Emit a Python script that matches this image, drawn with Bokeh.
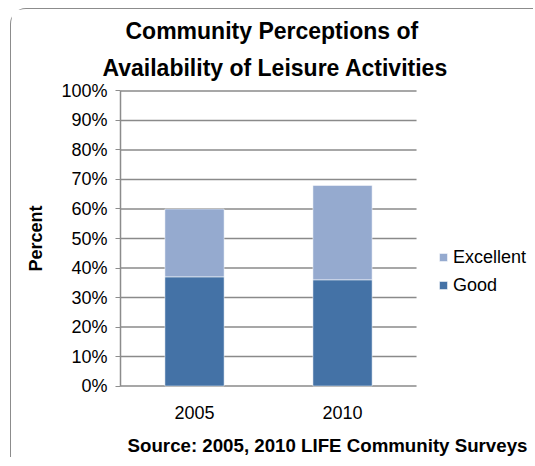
from bokeh.plotting import figure
from bokeh.models import (Title, Legend, LegendItem, Range1d,
                          PrintfTickFormatter, FixedTicker)
from bokeh.embed import file_html
from bokeh.resources import INLINE

categories = ["2005", "2010"]
good = [37, 36]
excellent = [23, 32]
series = ["Good", "Excellent"]
colors = ["#4472A6", "#95AACF"]
y_ticks = [0, 10, 20, 30, 40, 50, 60, 70, 80, 90, 100]

FONT = "Liberation Sans"

n = len(categories)
xpos = [i + 0.5 for i in range(n)]          # category slots on the x scale
label_map = {x: c for x, c in zip(xpos, categories)}

p = figure(x_range=Range1d(0, 2.797), y_range=Range1d(-0.5, 100.5),
           width=523, height=449,
           output_backend="svg", toolbar_location=None,
           min_border_left=109, min_border_right=0,
           min_border_top=80, min_border_bottom=60,
           background_fill_color="white", border_fill_color="white",
           outline_line_color=None,
           styles={"border-left": "1px solid #8c8c8c",
                   "border-top": "1px solid #8c8c8c",
                   "border-top-left-radius": "16px",
                   "margin-left": "10px",
                   "margin-top": "8px"})

# horizontal gridlines (incl. the category baseline) spanning the category area only
p.segment(x0=0, x1=n, y0=y_ticks, y1=y_ticks, line_color="#8a8a8a", line_width=1.5)

data = {"x": xpos, "Good": good, "Excellent": excellent}
renderers = p.vbar_stack(series, x="x", width=0.4, color=colors,
                         line_color="white", line_alpha=0.5, line_width=1,
                         source=data)

# Titles
p.title.text = ""
t2 = Title(text="Availability of Leisure Activities", align="left", offset=-18,
           text_font=FONT, text_font_size="23px", text_font_style="bold",
           text_color="black", standoff=18)
t1 = Title(text="Community Perceptions of", align="left", offset=5,
           text_font=FONT, text_font_size="23px", text_font_style="bold",
           text_color="black", standoff=0)
p.add_layout(t2, "above")
p.add_layout(t1, "above")

# Axes
p.yaxis.ticker = FixedTicker(ticks=y_ticks)
p.yaxis.formatter = PrintfTickFormatter(format="%d%%")
p.yaxis.axis_label = "Percent"
p.yaxis.axis_label_text_font = FONT
p.yaxis.axis_label_text_font_size = "18px"
p.yaxis.axis_label_text_font_style = "bold"
p.yaxis.axis_label_text_color = "black"
p.yaxis.axis_label_standoff = 12
p.yaxis.major_label_text_font = FONT
p.yaxis.major_label_text_font_size = "18px"
p.yaxis.major_label_text_color = "black"
p.yaxis.major_label_standoff = 8
p.yaxis.major_tick_out = 5
p.yaxis.major_tick_in = 0
p.yaxis.minor_tick_out = 0
p.yaxis.minor_tick_in = 0
p.yaxis.axis_line_color = "#8c8c8c"
p.yaxis.axis_line_width = 1.5
p.yaxis.major_tick_line_color = "#8c8c8c"
p.yaxis.bounds = (0, 100)

p.xaxis.ticker = FixedTicker(ticks=xpos)
p.xaxis.major_label_overrides = label_map
p.xaxis.major_label_text_font = FONT
p.xaxis.major_label_text_font_size = "18px"
p.xaxis.major_label_text_color = "black"
p.xaxis.major_label_standoff = 18
p.xaxis.major_tick_out = 0
p.xaxis.major_tick_in = 0
p.xaxis.minor_tick_out = 0
p.xaxis.minor_tick_in = 0
p.xaxis.axis_line_color = None
p.xaxis.axis_label = "Source: 2005, 2010 LIFE Community Surveys"
p.xaxis.axis_label_text_font = FONT
p.xaxis.axis_label_text_font_size = "18.7px"
p.xaxis.axis_label_text_font_style = "bold"
p.xaxis.axis_label_text_color = "black"
p.xaxis.axis_label_standoff = 13

p.xgrid.grid_line_color = None
p.ygrid.grid_line_color = None

legend = Legend(items=[LegendItem(label="Excellent", renderers=[renderers[1]]),
                       LegendItem(label="Good", renderers=[renderers[0]])],
                location=(318, 91.5), orientation="vertical",
                glyph_width=10, glyph_height=10, label_standoff=5,
                spacing=7, padding=0, margin=0,
                border_line_color=None, background_fill_alpha=0,
                label_text_font=FONT, label_text_font_size="18px",
                label_text_color="black")
p.add_layout(legend)

open("out.html", "w").write(file_html(p, INLINE))
